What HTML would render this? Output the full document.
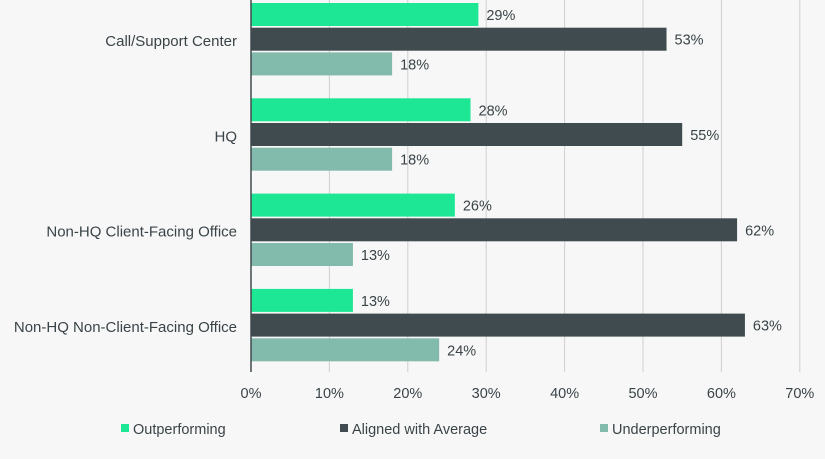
<!DOCTYPE html>
<html><head><meta charset="utf-8"><style>
body{margin:0;background:#f7f7f7;font-family:"Liberation Sans",sans-serif;}
svg{display:block}
text{font-family:"Liberation Sans",sans-serif;fill:#3a4448}
</style></head><body>
<svg id="c" width="825" height="459"></svg>
<script>
const categories=["Call/Support Center","HQ","Non-HQ Client-Facing Office","Non-HQ Non-Client-Facing Office"];
const outperforming=[29,28,26,13];
const aligned=[53,55,62,63];
const underperforming=[18,18,13,24];
const ticks=[0,10,20,30,40,50,60,70];
const seriesNames=["Outperforming","Aligned with Average","Underperforming"];
const colors=["#1de794","#404b4f","#82baac"];
const svg=document.getElementById('c');
const NS='http://www.w3.org/2000/svg';
const x=v=>251+v*7.84;
function mk(t,a){const e=document.createElementNS(NS,t);for(const k in a)e.setAttribute(k,a[k]);svg.appendChild(e);return e;}
ticks.forEach(t=>{
 if(t>0){const g=mk('line',{x1:x(t),x2:x(t),y1:0,y2:372,stroke:'#cfcfcf','stroke-width':1});
 
 }
 const l=mk('text',{x:x(t),y:398,'text-anchor':'middle','font-size':14.5});l.textContent=t+'%';
 
 
});
const series=[outperforming,aligned,underperforming];
categories.forEach((c,i)=>{
 const gy=3+i*95.3;
 const lab=mk('text',{x:237,y:gy+43,'text-anchor':'end','font-size':15});lab.textContent=c;
 
 
 series.forEach((s,j)=>{
  const y=gy+j*24.7;
  const r=mk('rect',{x:x(0),y:y,width:x(s[i])-x(0),height:23,fill:colors[j]});
  
  
  const t=mk('text',{x:x(s[i])+8,y:y+17,'font-size':14.5});t.textContent=s[i]+'%';
  
  
 });
});
const ax=mk('line',{x1:251,x2:251,y1:0,y2:372,stroke:'#404b4f','stroke-width':1.5});


const lx=[121,340,600];
seriesNames.forEach((n,j)=>{
 const r=mk('rect',{x:lx[j],y:424,width:8,height:8,fill:colors[j]});
 
 
 const t=mk('text',{x:lx[j]+12,y:434,'font-size':14.5});t.textContent=n;
 
 
});
</script>
</body></html>
